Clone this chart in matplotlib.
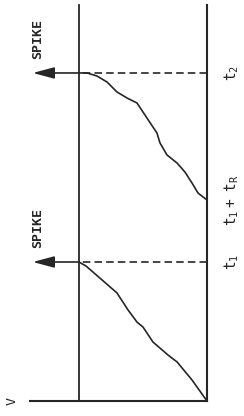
import numpy as np
import matplotlib.pyplot as plt

# membrane potential V (units of threshold) and time t (units of t1)
# first charge: from reset at t=0 up to threshold at t1
rise1_v = [0.0, 0.117, 0.234, 0.305, 0.422, 0.50, 0.547, 0.617, 0.703, 0.82, 0.945, 1.0]
rise1_t = [0.0, 0.151, 0.281, 0.331, 0.424, 0.532, 0.568, 0.655, 0.777, 0.871, 0.971, 1.0]
# second charge: starts after refractory period t1 + tR, reaches threshold at t2
rise2_v = [0.0, 0.070, 0.117, 0.172, 0.234, 0.3125, 0.367, 0.391, 0.469, 0.547,
           0.625, 0.703, 0.781, 0.859, 0.9375, 1.0]
rise2_t = [1.446, 1.496, 1.568, 1.647, 1.712, 1.770, 1.856, 1.928, 2.036, 2.144,
           2.180, 2.223, 2.295, 2.338, 2.360, 2.360]

theta = 1.0
t1 = 1.0
tR = 0.446
t2 = 2.360
spike_times = [t1, t2]
time_labels = [r'$\mathtt{t_1}$', r'$\mathtt{t_1+\ t_R}$', r'$\mathtt{t_2}$']
time_ticks = [t1, t1 + tR, t2]

ink = '#262626'
plt.rcParams['font.family'] = 'DejaVu Sans Mono'
plt.rcParams['mathtext.fontset'] = 'dejavusans'

fig = plt.figure(figsize=(2.44, 4.16), dpi=100)
ax = fig.add_axes([0, 0, 1, 1])
ax.set_axis_off()
# page is turned a quarter: time runs upward, V grows to the left
ax.set_xlim(1.617, -0.289)
ax.set_ylim(-0.108, 2.885)

t_top = 2.85
# time axis (V = 0) and threshold line
ax.plot([0, 0], [0, t_top], color=ink, lw=1.5)
ax.plot([theta, theta], [0, t_top], color=ink, lw=1.3)
# V axis
ax.plot([0, 1.383], [0, 0], color=ink, lw=1.5)
ax.text(1.52, 0, 'V', rotation=90, ha='center', va='center', fontsize=9.5, color=ink)

# the two charging curves
ax.plot(rise1_v, rise1_t, color=ink, lw=1.2)
ax.plot(rise2_v, rise2_t, color=ink, lw=1.2)

for ts in spike_times:
    ax.plot([0, theta], [ts, ts], color=ink, lw=1.2, ls=(0, (4.5, 2.5)))
    ax.annotate('', xy=(1.36, ts), xytext=(theta, ts),
                arrowprops=dict(arrowstyle='-|>,head_length=1.3,head_width=0.35',
                                color=ink, lw=1.2, shrinkA=0, shrinkB=0))
    ax.text(1.32, ts + 0.245, 'SPIKE', rotation=90, ha='center', va='center',
            fontsize=9.5, fontweight='bold', color=ink)

for tick, lab in zip(time_ticks, time_labels):
    ax.text(-0.195, tick, lab, rotation=90, ha='center', va='center',
            fontsize=10.5, color=ink)

# value labels on the V axis, cut by the page edge as in the scan
ax.text(theta, -0.15, r'$\theta$', rotation=90, ha='center', va='center',
        fontsize=10, color=ink)
ax.text(0.02, -0.15, '0', rotation=90, ha='center', va='center',
        fontsize=10, color=ink)

plt.savefig('out.png', dpi=100)
